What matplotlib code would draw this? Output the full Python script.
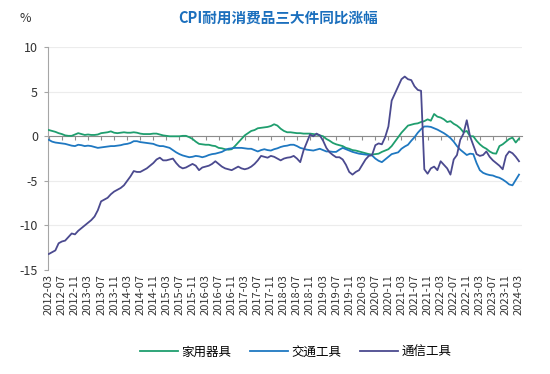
import numpy as np
import pandas as pd
import matplotlib
matplotlib.use('Agg')
import matplotlib.pyplot as plt

plt.rcParams['font.family'] = ['Noto Sans CJK SC', 'DejaVu Sans']
plt.rcParams['axes.unicode_minus'] = False

# monthly, 2012-03 .. 2024-03
months = pd.date_range('2012-03', '2024-03', freq='MS').strftime('%Y-%m').tolist()

home_appliances = [
    0.7, 0.6, 0.5, 0.35, 0.25, 0.1, 0.05, 0.05, 0.2, 0.35,
    0.25, 0.15, 0.2, 0.15, 0.15, 0.2, 0.35, 0.4, 0.45, 0.55,
    0.4, 0.35, 0.4, 0.45, 0.4, 0.4, 0.45, 0.4, 0.3, 0.25,
    0.25, 0.25, 0.3, 0.3, 0.2, 0.1, 0.05, 0.0, 0.0, 0.0,
    0.0, 0.05, 0.05, -0.1, -0.3, -0.6, -0.85, -0.9, -0.95, -0.95,
    -1.05, -1.1, -1.3, -1.35, -1.45, -1.5, -1.45, -1.1, -0.7, -0.3,
    0.1, 0.35, 0.6, 0.7, 0.9, 0.95, 1.0, 1.05, 1.15, 1.35,
    1.2, 0.85, 0.6, 0.45, 0.45, 0.4, 0.35, 0.35, 0.3, 0.3,
    0.3, 0.25, 0.2, 0.1, 0.0, -0.3, -0.5, -0.75, -0.9, -1.0,
    -1.1, -1.3, -1.4, -1.55, -1.6, -1.7, -1.8, -1.9, -2.0, -2.05,
    -2.0, -1.95, -1.75, -1.6, -1.45, -1.1, -0.6, -0.1, 0.4, 0.8,
    1.2, 1.3, 1.4, 1.45, 1.6, 1.7, 1.9, 1.75, 2.5, 2.2,
    2.1, 1.9, 1.6, 1.7, 1.4, 1.2, 0.9, 0.45, 0.6, 0.0,
    0.0, -0.5, -0.9, -1.2, -1.4, -1.7, -1.9, -1.95, -1.1, -0.9,
    -0.6, -0.3, -0.15, -0.7, -0.25,
]

transport = [
    -0.4, -0.6, -0.7, -0.75, -0.8, -0.85, -0.95, -1.05, -1.1, -0.95,
    -1.0, -1.1, -1.05, -1.1, -1.2, -1.3, -1.25, -1.2, -1.15, -1.1,
    -1.1, -1.05, -1.0, -0.9, -0.85, -0.75, -0.55, -0.55, -0.65, -0.7,
    -0.75, -0.8, -0.85, -1.0, -1.1, -1.1, -1.2, -1.3, -1.55, -1.8,
    -2.0, -2.15, -2.25, -2.35, -2.3, -2.2, -2.25, -2.35, -2.25, -2.1,
    -2.0, -1.95, -1.85, -1.75, -1.55, -1.4, -1.35, -1.3, -1.3, -1.3,
    -1.35, -1.4, -1.4, -1.55, -1.7, -1.55, -1.45, -1.55, -1.6, -1.45,
    -1.35, -1.2, -1.1, -1.05, -0.95, -0.95, -1.1, -1.3, -1.4, -1.5,
    -1.55, -1.6, -1.5, -1.4, -1.55, -1.7, -1.7, -1.75, -1.75, -1.5,
    -1.3, -1.45, -1.6, -1.75, -1.85, -1.95, -2.0, -2.05, -2.1, -2.15,
    -2.5, -2.75, -2.9, -2.6, -2.3, -2.0, -1.9, -1.8, -1.4, -1.15,
    -0.95, -0.5, -0.1, 0.4, 0.8, 1.1, 1.1, 1.05, 0.9, 0.75,
    0.55, 0.35, 0.1, -0.2, -0.6, -1.1, -1.5, -1.8, -2.1, -1.95,
    -2.0, -3.0, -3.8, -4.1, -4.25, -4.35, -4.4, -4.55, -4.65, -4.85,
    -5.1, -5.4, -5.5, -4.9, -4.3,
]

telecom = [
    -13.2, -13.0, -12.8, -12.0, -11.8, -11.7, -11.3, -10.9, -11.0, -10.6,
    -10.3, -10.0, -9.7, -9.4, -9.0, -8.3, -7.3, -7.1, -6.9, -6.5,
    -6.2, -6.0, -5.8, -5.5, -5.0, -4.5, -3.9, -4.0, -4.0, -3.8,
    -3.6, -3.3, -3.0, -2.6, -2.4, -2.7, -2.7, -2.6, -2.5, -3.0,
    -3.4, -3.6, -3.5, -3.3, -3.1, -3.3, -3.8, -3.5, -3.4, -3.3,
    -3.1, -2.8, -3.1, -3.4, -3.6, -3.7, -3.8, -3.6, -3.4, -3.6,
    -3.7, -3.6, -3.4, -3.1, -2.7, -2.2, -2.3, -2.4, -2.2, -2.3,
    -2.5, -2.7, -2.5, -2.4, -2.35, -2.2, -2.5, -2.9, -1.6, -0.7,
    0.2, 0.0, 0.3, 0.1, -0.5, -1.3, -1.8, -2.1, -2.35, -2.35,
    -2.6, -3.2, -4.0, -4.3, -4.0, -3.8, -3.2, -2.6, -2.2, -2.1,
    -1.0, -0.8, -0.9, -0.1, 1.1, 4.0, 4.8, 5.6, 6.4, 6.7,
    6.4, 6.3, 5.6, 5.2, 5.1, -3.7, -4.2, -3.6, -3.4, -3.8,
    -2.8, -3.2, -3.6, -4.3, -2.6, -2.1, -0.4, 0.3, 1.8, 0.0,
    -1.0, -2.0, -2.2, -2.1, -1.7, -2.3, -2.7, -3.0, -3.3, -3.7,
    -2.2, -1.7, -1.9, -2.3, -2.8,
]

series_names = ['家用器具', '交通工具', '通信工具']
series_colors = ['#1f9e6e', '#1f78c1', '#4b4a8f']

x = np.arange(len(months))
tick_idx = x[::4]

fig = plt.figure(figsize=(5.5, 3.74), dpi=100)
ax = fig.add_axes([0.087, 0.278, 0.862, 0.596])

for vals, name, col in zip([home_appliances, transport, telecom], series_names, series_colors):
    ax.plot(x, vals, color=col, lw=1.3, label=name, zorder=3)

ax.set_ylim(-15, 10)
ax.set_xlim(-0.3, len(months) - 0.1)
yt = [10, 5, 0, -5, -10, -15]
ax.set_yticks(yt)
ax.set_yticklabels([str(v) for v in yt], fontsize=9, color='#333333')
ax.grid(axis='y', color='#ececec', lw=0.8, zorder=0)
ax.grid(axis='x', visible=False)
for s in ['top', 'right']:
    ax.spines[s].set_visible(False)
ax.spines['left'].set_color('#a6a6a6')
ax.spines['bottom'].set_position(('data', 0))
ax.spines['bottom'].set_color('#8c8c8c')
ax.spines['bottom'].set_zorder(2)
ax.tick_params(axis='y', length=3, color='#a6a6a6', pad=4)
ax.set_xticks(tick_idx)
ax.tick_params(axis='x', length=3, color='#8c8c8c', labelbottom=False)

# date labels sit at the bottom of the plot area
sec = ax.secondary_xaxis('bottom')
sec.set_xticks(tick_idx)
sec.set_xticklabels([months[i] for i in tick_idx], rotation=90, fontsize=8, color='#333333')
sec.tick_params(length=0, pad=3)
sec.spines['bottom'].set_visible(False)

fig.text(0.505, 0.952, 'CPI耐用消费品三大件同比涨幅', ha='center', va='center',
         fontsize=10.5, fontweight='bold', color='#1b6fbd')
fig.text(0.045, 0.95, '%', ha='center', va='center', fontsize=9, color='#333333')

fig.legend(loc='center', bbox_to_anchor=(0.538, 0.058), ncol=3, frameon=False,
           fontsize=9, handlelength=3.0, columnspacing=1.5, handletextpad=0.3)

fig.savefig('out.png', dpi=100)
